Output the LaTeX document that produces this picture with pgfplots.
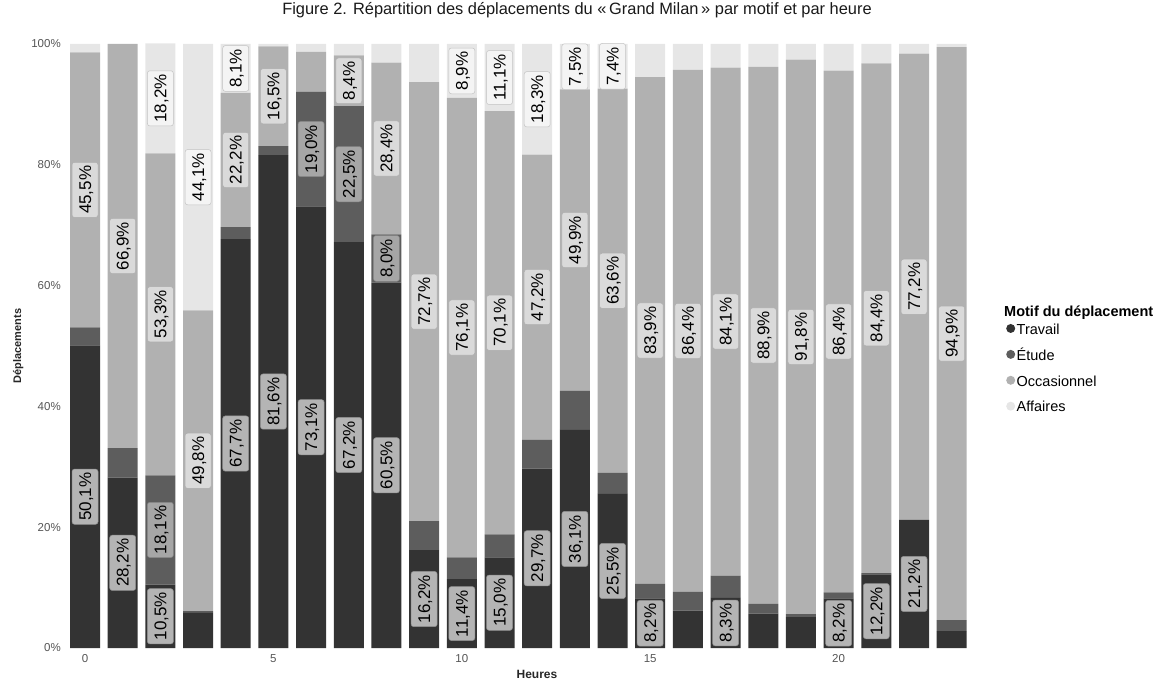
\documentclass[border=0pt]{standalone}
\usepackage{fontspec}
\setmainfont{Liberation Sans}
\usepackage{pgfplots}
\pgfplotsset{compat=1.18}
\usepackage{pgfplotstable}

\definecolor{trav}{HTML}{333333}
\definecolor{etud}{HTML}{5D5D5D}
\definecolor{occa}{HTML}{B1B1B1}
\definecolor{affa}{HTML}{E6E6E6}
\definecolor{travl}{HTML}{B4B4B4}
\definecolor{etudl}{HTML}{A6A6A6}
\definecolor{occal}{HTML}{DADADA}
\definecolor{affal}{HTML}{F4F4F4}
\definecolor{tickgray}{HTML}{555555}

% parts in percent, per hour: travail, etude, occasionnel, affaires
\pgfplotstableread{
h  t    e    o    a
0  50.1 3.0  45.5 1.4
1  28.2 4.9  66.9 0.0
2  10.5 18.1 53.3 18.2
3  5.8  0.3  49.8 44.1
4  67.7 2.0  22.2 8.1
5  81.6 1.5  16.5 0.4
6  73.1 19.0 6.6  1.3
7  67.2 22.5 8.4  1.9
8  60.5 8.0  28.4 3.1
9  16.2 4.8  72.7 6.3
10 11.4 3.6  76.1 8.9
11 15.0 3.8  70.1 11.1
12 29.7 4.8  47.2 18.3
13 36.1 6.5  49.9 7.5
14 25.5 3.5  63.6 7.4
15 8.2  2.4  83.9 5.5
16 6.2  3.1  86.4 4.3
17 8.3  3.7  84.1 3.9
18 5.7  1.6  88.9 3.8
19 5.1  0.5  91.8 2.6
20 8.2  1.0  86.4 4.4
21 12.2 0.2  84.4 3.2
22 21.2 0.0  77.2 1.6
23 2.8  1.8  94.9 0.5
}\motifs

\pgfplotsset{
  getmeta/.code={%
    \pgfkeys{/pgf/fpu=true,/pgf/fpu/output format=fixed}%
    \pgfmathparse{\pgfplotspointmeta}\global\let\rawv\pgfmathresult
    \pgfkeys{/pgf/fpu=false}%
    \ifdim\rawv pt<7pt\gdef\lblop{0}\else\gdef\lblop{1}\fi
  },
  % labels sit in the middle of each segment; small parts stay unlabelled
  seglbl/.style={
    point meta=explicit,
    nodes near coords={\pgfmathprintnumber[fixed,fixed zerofill,precision=1,use comma]{\pgfplotspointmeta}\%},
    every node near coord/.style={
      /pgfplots/getmeta,
      anchor=center, rotate=90,
      opacity=\lblop, fill=#1, draw=#1!80!black, line width=0.5pt,
      rounded corners=2.5pt, text=black,
      font=\fontsize{17}{17}\selectfont,
      inner xsep=3.5pt, inner ysep=6.5pt, text height=12.5pt, text depth=0.5pt
    }
  }
}

\begin{document}
\begin{tikzpicture}
\useasboundingbox (0,0) rectangle (1154pt,681pt);
\begin{axis}[
  at={(64.3pt,33pt)}, anchor=south west,
  scale only axis, width=908.1pt, height=604pt,
  xmin=-0.55, xmax=23.55, ymin=0, ymax=100,
  ybar stacked, bar width=30pt,
  /pgf/number format/assume math mode=true,
  axis line style={draw=none}, tick style={draw=none}, major tick length=0pt,
  xtick={0,5,10,15,20}, xticklabels={0,5,10,15,20},
  ytick={0,20,40,60,80,100}, yticklabels={0\%,20\%,40\%,60\%,80\%,100\%},
  ticklabel style={font=\fontsize{11.5}{11.5}\selectfont, text=tickgray},
  xticklabel style={yshift=-3pt},
  title={Figure 2. Répartition des déplacements du «\,Grand Milan\,» par motif et par heure},
  title style={at={(0.5646,1)}, anchor=center, yshift=28pt, font=\fontsize{16.4}{16.4}\selectfont, text=black!90},
  xlabel={Heures},
  xlabel style={at={(0.5205,0)}, anchor=center, yshift=-26pt, font=\bfseries\fontsize{12}{12}\selectfont, text=black!85},
  ylabel={Déplacements},
  every axis y label/.style={at={(-0.05066,0.5)}, rotate=90, anchor=center, font=\bfseries\fontsize{11}{11}\selectfont, text=black!85},
  legend image code/.code={\fill[#1, draw=none] (4.5pt,2pt) circle (4.5pt);},
  legend style={at={(1.037,0.5397)}, anchor=north west, draw=none, fill=none,
    font=\fontsize{14.5}{14.5}\selectfont, inner sep=0pt, row sep=9.4pt,
    nodes={inner sep=1.5pt, text height=10.5pt, text depth=3pt}},
  legend cell align=left,
  clip=false,
]
\addplot[fill=trav, draw=none, seglbl=travl] table[x=h, y=t, meta=t] {\motifs};
\addplot[fill=etud, draw=none, seglbl=etudl] table[x=h, y=e, meta=e] {\motifs};
\addplot[fill=occa, draw=none, seglbl=occal] table[x=h, y=o, meta=o] {\motifs};
\addplot[fill=affa, draw=none, seglbl=affal] table[x=h, y=a, meta=a] {\motifs};
\legend{Travail, Étude, Occasionnel, Affaires}
\node[anchor=west, inner sep=0pt, font=\bfseries\fontsize{14.5}{14.5}\selectfont]
  at (rel axis cs:1.0348,0.555) {Motif du déplacement};
\end{axis}
\end{tikzpicture}
\end{document}
